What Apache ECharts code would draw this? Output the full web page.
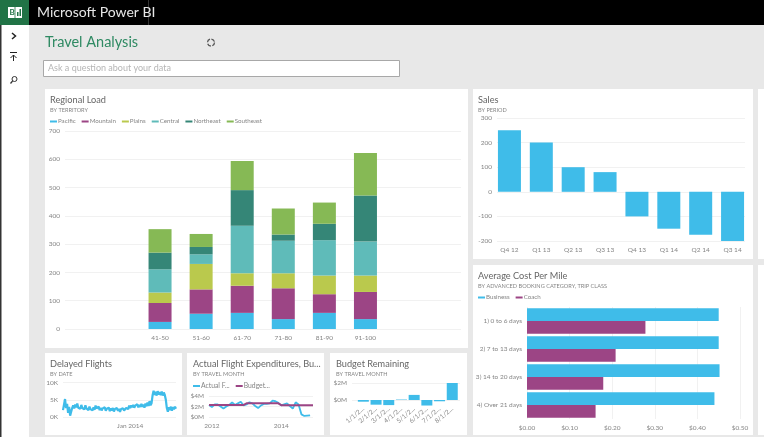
<!DOCTYPE html>
<html>
<head>
<meta charset="utf-8">
<title>Travel Analysis</title>
<script src="https://cdn.jsdelivr.net/npm/echarts@6/dist/echarts.min.js"></script>
<style>
html, body { margin: 0; padding: 0; background: #e8e8e8; overflow: hidden; }
#main { width: 764px; height: 437px; }
</style>
</head>
<body>
<div id="main"></div>
<script>
// regional load
var loadCategories = ['41-50', '51-60', '61-70', '71-80', '81-90', '91-100'];
var pacific = [25, 54, 57, 35, 57, 35];
var mountain = [67, 86, 96, 109, 66, 96];
var plains = [37, 90, 44, 53, 66, 58];
var central = [82, 34, 168, 115, 125, 120];
var northeast = [59, 26, 126, 22, 58, 163];
var southeast = [83, 46, 103, 92, 75, 150];

// sales
var salesPeriods = ['Q4 12', 'Q1 13', 'Q2 13', 'Q3 13', 'Q4 13', 'Q1 14', 'Q2 14', 'Q3 14'];
var salesValues = [250, 200, 100, 80, -100, -150, -175, -200];

// average cost per mile
var costCategories = ['1) 0 to 6 days', '2) 7 to 13 days', '3) 14 to 20 days', '4) Over 21 days'];
var costBusiness = [0.45, 0.45, 0.452, 0.44];
var costCoach = [0.278, 0.208, 0.179, 0.161];

// delayed flights, in thousands
var delayedValues = [
    2.0, 1.6, 5.2, 2.6, 3.8, 1.2, 2.9, 0.4, 0.2, 2.6,
    3.4, 2.5, 3.6, 2.8, 3.9, 2.7, 3.2, 2.4, 3.5, 2.6,
    3.1, 2.2, 3.4, 2.5, 2.9, 2.0, 3.0, 2.3, 2.7, 1.9,
    2.8, 2.1, 3.3, 2.5, 2.4, 3.0, 2.0, 2.6, 1.9, 2.5,
    2.2, 2.8, 1.8, 2.4, 2.0, 2.7, 1.7, 2.5, 1.9, 2.6,
    1.6, 2.3, 2.0, 2.6, 1.8, 2.4, 1.5, 2.3, 2.0, 2.5,
    1.9, 2.2, 2.6, 2.9, 2.3, 3.3, 2.6, 3.4, 2.8, 3.5,
    2.7, 3.3, 3.0, 3.7, 2.8, 3.5, 2.9, 3.8, 3.0, 3.6,
    2.7, 3.9, 3.1, 4.2, 3.2, 4.6, 3.4, 4.0, 6.3, 7.6,
    6.4, 7.3, 6.2, 7.5, 6.5, 7.2, 6.3, 7.4, 6.2, 7.1,
    6.4, 5.0, 2.6, 1.5, 2.8, 2.0, 3.0, 1.8, 2.9, 2.2, 3.0, 2.4
];
var delayedLabelIndex = 66;

// actual flight expenditures vs budget, in millions
var actualValues = [
    2.3, 1.9, 2.4, 2.4, 2.0, 1.6, 2.0, 2.3, 2.8, 2.3, 2.6, 2.9,
    2.2, 2.4, 2.8, 2.6, 2.1, 1.7, 2.2, 2.5, 2.5, 2.6, 3.1, 3.0,
    2.7, 2.2, 2.4, 2.6, 2.1, 1.6, 2.8, 2.4, 0.5, 0.2, 0.25, 0.3, null
];
var budgetValues = [
    2.3, 2.3, 2.3, 2.3, 2.3, 2.3, 2.3, 2.3, 2.3, 2.3, 2.3, 2.3,
    2.3, 2.6, 2.6, 2.6, 2.6, 2.6, 2.6, 2.6, 2.6, 2.6, 2.6, 2.6,
    2.6, 2.25, 2.25, 2.25, 2.25, 2.25, 2.25, 2.25, 2.25, 2.25, 2.25, 2.25, 2.25
];
var actualLabels = { 1: '2012', 25: '2014' };

// budget remaining, in millions
var remainingMonths = ['1/1/2...', '2/1/2...', '3/1/2...', '4/1/2...', '5/1/2...', '6/1/2...', '7/1/2...', '8/1/2...'];
var remainingValues = [-0.2, -0.55, -0.6, 0.12, 0.6, -0.65, -0.15, 2];

var BLUE = '#3fbce9', PURPLE = '#9c4585';
var FONT = 'Lato, "Open Sans", sans-serif';
var GRID_LINE = '#f1f1f1', LABEL = '#858585';

var axisText = { color: LABEL, fontSize: 6.5, fontFamily: FONT };

function panel(x, y, w, h) {
    return { type: 'rect', z: -10, shape: { x: x, y: y, width: w, height: h }, style: { fill: '#fff' } };
}

function panelTitle(x, y, text, sub) {
    return {
        left: x, top: y, text: text, subtext: sub, itemGap: 2, padding: 0,
        textStyle: { color: '#666', fontSize: 9.2, fontWeight: 'normal', fontFamily: FONT },
        subtextStyle: { color: '#858585', fontSize: 5.6, fontFamily: FONT }
    };
}

// value axis, shown or hidden, with gridlines
function valueAxis(index, min, max, interval, formatter, show) {
    return {
        type: 'value', gridIndex: index, min: min, max: max, interval: interval, show: show,
        axisLine: { show: false }, axisTick: { show: false },
        axisLabel: Object.assign({ margin: 5, formatter: formatter }, axisText),
        splitLine: { show: show, lineStyle: { color: GRID_LINE, width: 1 } }
    };
}

function categoryAxis(index, data, show) {
    return {
        type: 'category', gridIndex: index, data: data, show: show,
        axisLine: { show: false }, axisTick: { show: false },
        axisLabel: Object.assign({ margin: 5, interval: 0 }, axisText)
    };
}

function legend(x, y, names, size) {
    return {
        left: x, top: y, data: names, icon: 'rect', itemWidth: 7, itemHeight: 2, itemGap: 6, padding: 0,
        selectedMode: false,
        textStyle: { color: LABEL, fontSize: size, fontFamily: FONT, padding: [0, 0, 0, -4] }
    };
}

function stacked(name, values, color) {
    return {
        name: name, type: 'bar', stack: 'load', xAxisIndex: 1, yAxisIndex: 1, data: values, barWidth: 23,
        itemStyle: { color: color }
    };
}

var costY = categoryAxis(4, costCategories, true);
costY.inverse = true;

var remainingX = categoryAxis(8, remainingMonths, true);
remainingX.axisLabel.rotate = 40;
remainingX.axisLabel.margin = -9;

var remainingGridY = valueAxis(7, -2, 2, 2, '${value}M', true);
remainingGridY.axisLabel.showMinLabel = false;
remainingGridY.splitLine.showMinLine = false;

var delayedX = categoryAxis(5, delayedValues.map(function (v, i) {
    return i === delayedLabelIndex ? 'Jan 2014' : '';
}), true);
delayedX.boundaryGap = false;

var actualX = categoryAxis(6, budgetValues.map(function (v, i) {
    return actualLabels[i] || '';
}), true);
actualX.boundaryGap = false;

var option = {
    backgroundColor: '#e8e8e8',
    animation: false,
    title: [
        {
            left: 37, top: 5, text: 'Microsoft Power BI', padding: 0,
            textStyle: { color: '#e6e6e6', fontSize: 14, fontWeight: 'normal', fontFamily: FONT }
        },
        {
            left: 45, top: 35, text: 'Travel Analysis', padding: 0,
            textStyle: { color: '#2f8a63', fontSize: 14.5, fontWeight: 'normal', fontFamily: FONT }
        },
        panelTitle(50, 96, 'Regional Load', 'BY TERRITORY'),
        panelTitle(478, 96, 'Sales', 'BY PERIOD'),
        panelTitle(478, 272, 'Average Cost Per Mile', 'BY ADVANCED BOOKING CATEGORY, TRIP CLASS'),
        panelTitle(50, 360, 'Delayed Flights', 'BY DATE'),
        panelTitle(193, 360, 'Actual Flight Expenditures, Bu...', 'BY TRAVEL MONTH'),
        panelTitle(336, 360, 'Budget Remaining', 'BY TRAVEL MONTH')
    ],
    legend: [
        legend(50, 118.5, ['Pacific', 'Mountain', 'Plains', 'Central', 'Northeast', 'Southeast'], 6.2),
        legend(478, 294.5, ['Business', 'Coach'], 6.2),
        legend(193, 382.5, ['Actual F...', 'Budget...'], 6.8)
    ],
    grid: [
        { left: 65, top: 131, width: 396, height: 198 },
        { left: 139.5, top: 131, width: 246.5, height: 198 },
        { left: 497, top: 118, width: 248, height: 123 },
        { left: 493.5, top: 118, width: 255, height: 123 },
        { left: 527, top: 307, width: 213, height: 112 },
        { left: 63, top: 382.5, width: 113, height: 34.5 },
        { left: 209, top: 396, width: 104, height: 21 },
        { left: 352, top: 383, width: 108, height: 34 },
        { left: 357, top: 383, width: 101.6, height: 34 }
    ],
    xAxis: [
        categoryAxis(0, [], false),
        categoryAxis(1, loadCategories, true),
        categoryAxis(2, [], false),
        categoryAxis(3, salesPeriods, true),
        valueAxis(4, 0, 0.5, 0.1, function (v) { return '$' + v.toFixed(2); }, true),
        delayedX,
        actualX,
        categoryAxis(7, [], false),
        remainingX
    ],
    yAxis: [
        valueAxis(0, 0, 700, 100, '{value}', true),
        valueAxis(1, 0, 700, 100, '{value}', false),
        valueAxis(2, -200, 300, 100, '{value}', true),
        valueAxis(3, -200, 300, 100, '{value}', false),
        costY,
        valueAxis(5, 0, 10, 5, '{value}K', true),
        valueAxis(6, 0, 4, 2, '${value}M', true),
        remainingGridY,
        valueAxis(8, -2, 2, 2, '${value}M', false)
    ],
    series: [
        stacked('Pacific', pacific, BLUE),
        stacked('Mountain', mountain, PURPLE),
        stacked('Plains', plains, '#bac94d'),
        stacked('Central', central, '#5fbbb9'),
        stacked('Northeast', northeast, '#358677'),
        stacked('Southeast', southeast, '#86b955'),
        {
            name: 'Sales', type: 'bar', xAxisIndex: 3, yAxisIndex: 3, data: salesValues, barWidth: 23,
            itemStyle: { color: BLUE }
        },
        {
            name: 'Business', type: 'bar', xAxisIndex: 4, yAxisIndex: 4, data: costBusiness, barWidth: 12.7, barGap: 0,
            itemStyle: { color: BLUE }
        },
        {
            name: 'Coach', type: 'bar', xAxisIndex: 4, yAxisIndex: 4, data: costCoach, barWidth: 12.7, barGap: 0,
            itemStyle: { color: PURPLE }
        },
        {
            name: 'Delayed Flights', type: 'line', xAxisIndex: 5, yAxisIndex: 5, data: delayedValues, showSymbol: false,
            lineStyle: { color: BLUE, width: 2.2 }, itemStyle: { color: BLUE }
        },
        {
            name: 'Actual F...', type: 'line', xAxisIndex: 6, yAxisIndex: 6, data: actualValues, showSymbol: false,
            lineStyle: { color: BLUE, width: 1.8 }, itemStyle: { color: BLUE }
        },
        {
            name: 'Budget...', type: 'line', xAxisIndex: 6, yAxisIndex: 6, data: budgetValues, showSymbol: false,
            lineStyle: { color: PURPLE, width: 2 }, itemStyle: { color: PURPLE }
        },
        {
            name: 'Budget Remaining', type: 'bar', xAxisIndex: 8, yAxisIndex: 8, data: remainingValues, barWidth: 11,
            itemStyle: {
                color: function (p) { return p.dataIndex === 3 ? '#a9dff3' : BLUE; }
            }
        }
    ],
    graphic: {
        elements: [
            // top bar and left rail
            { type: 'rect', z: -10, shape: { x: 0, y: 0, width: 764, height: 25 }, style: { fill: '#000' } },
            { type: 'rect', z: -9, shape: { x: 148, y: 0, width: 1, height: 25 }, style: { fill: '#333' } },
            { type: 'rect', z: -10, shape: { x: 0, y: 25, width: 29, height: 412 }, style: { fill: '#fff' } },
            { type: 'rect', z: -9, shape: { x: 0, y: 25, width: 1.5, height: 412 }, style: { fill: '#333' } },
            { type: 'rect', z: -9, shape: { x: 0, y: 0, width: 29, height: 25 }, style: { fill: '#217346' } },
            { type: 'rect', z: -8, shape: { x: 8, y: 7, width: 14, height: 11 }, style: { fill: '#fff' } },
            { type: 'rect', z: -7, shape: { x: 14.6, y: 7, width: 0.8, height: 11 }, style: { fill: '#217346' } },
            { type: 'text', z: -7, style: { x: 9.5, y: 8, text: 'B', fill: '#217346', font: 'bold 8px ' + FONT } },
            { type: 'rect', z: -7, shape: { x: 17, y: 12, width: 1.5, height: 4 }, style: { fill: '#217346' } },
            { type: 'rect', z: -7, shape: { x: 19.5, y: 9, width: 1.5, height: 7 }, style: { fill: '#217346' } },
            // rail icons
            { type: 'polyline', shape: { points: [[12, 33], [15.5, 36], [12, 39]] }, style: { stroke: '#222', lineWidth: 1.5, fill: null } },
            { type: 'line', shape: { x1: 10, y1: 52.5, x2: 17, y2: 52.5 }, style: { stroke: '#222', lineWidth: 1 } },
            { type: 'polyline', shape: { points: [[10.5, 58], [13.5, 55], [16.5, 58]] }, style: { stroke: '#222', lineWidth: 1, fill: null } },
            { type: 'line', shape: { x1: 13.5, y1: 55, x2: 13.5, y2: 61 }, style: { stroke: '#222', lineWidth: 1 } },
            { type: 'circle', shape: { cx: 14.5, cy: 79, r: 2.5 }, style: { stroke: '#333', lineWidth: 1, fill: null } },
            { type: 'line', shape: { x1: 12.6, y1: 81, x2: 10.5, y2: 83.5 }, style: { stroke: '#333', lineWidth: 1.2 } },
            // refresh icon
            { type: 'circle', shape: { cx: 211, cy: 42.5, r: 3.5 }, style: { stroke: '#555', lineWidth: 1.3, fill: null, lineDash: [4, 1.5] } },
            // question box
            { type: 'rect', z: -9, shape: { x: 43.5, y: 60.5, width: 356, height: 16 }, style: { fill: '#fff', stroke: '#a8a8a8', lineWidth: 1 } },
            { type: 'text', z: -8, style: { x: 48, y: 64, text: 'Ask a question about your data', fill: '#b5b5b5', font: '9px ' + FONT } },
            // tiles
            panel(45, 89, 423, 259),
            panel(473, 89, 280, 170),
            panel(473, 265, 280, 170),
            panel(45, 353, 137, 82),
            panel(187, 353, 137, 82),
            panel(330, 353, 137, 82),
            panel(758, 89, 6, 170),
            panel(758, 265, 6, 170)
        ]
    }
};

var myChart = echarts.init(document.getElementById('main'), null, { renderer: 'canvas' });
myChart.setOption(option);
</script>
</body>
</html>
